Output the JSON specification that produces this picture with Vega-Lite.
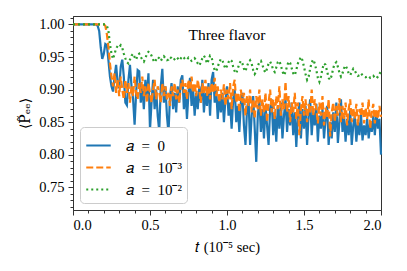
{
"$schema": "https://vega.github.io/schema/vega-lite/v6.json",
"width": 308, "height": 194,
"autosize": {"type": "none"},
"padding": {"left": 73, "top": 16, "right": 26, "bottom": 61},
"background": "white",
"config": {"view": {"stroke": "#333", "strokeWidth": 1}, "font": "Liberation Serif"},
"title": {"text": "Three flavor", "orient": "top", "anchor": "middle", "offset": -27, "fontSize": 15.5, "font": "Liberation Serif", "fontWeight": "normal", "color": "black"},
"data": {"values": [
{"t":0.00,"a0":1,"a3":1,"a2":1},
{"t":0.05,"a0":1,"a3":1,"a2":1},
{"t":0.10,"a0":1,"a3":1,"a2":1},
{"t":0.15,"a0":1.000,"a3":1,"a2":1},
{"t":0.16,"a0":0.998,"a3":1,"a2":1},
{"t":0.17,"a0":0.990,"a3":1,"a2":1},
{"t":0.18,"a0":0.965,"a3":1,"a2":1},
{"t":0.19,"a0":0.947,"a3":1,"a2":1},
{"t":0.20,"a0":0.955,"a3":1,"a2":1},
{"t":0.21,"a0":0.970,"a3":0.998,"a2":1},
{"t":0.22,"a0":0.968,"a3":0.985,"a2":0.998},
{"t":0.23,"a0":0.945,"a3":0.965,"a2":0.990},
{"t":0.24,"a0":0.920,"a3":0.940,"a2":0.970},
{"t":0.25,"a0":0.905,"a3":0.920,"a2":0.955},
{"t":0.26,"a0":0.897,"a3":0.905,"a2":0.947},
{"t":0.27,"a0":0.920,"a3":0.925,"a2":0.955},
{"t":0.28,"a0":0.938,"a3":0.895,"a2":0.963},
{"t":0.29,"a0":0.910,"a3":0.915,"a2":0.967},
{"t":0.30,"a0":0.902,"a3":0.890,"a2":0.965},
{"t":0.31,"a0":0.935,"a3":0.920,"a2":0.968},
{"t":0.32,"a0":0.946,"a3":0.900,"a2":0.964},
{"t":0.33,"a0":0.920,"a3":0.885,"a2":0.955},
{"t":0.34,"a0":0.880,"a3":0.915,"a2":0.948},
{"t":0.35,"a0":0.876,"a3":0.895,"a2":0.942},
{"t":0.36,"a0":0.915,"a3":0.910,"a2":0.940},
{"t":0.37,"a0":0.938,"a3":0.880,"a2":0.946},
{"t":0.38,"a0":0.905,"a3":0.905,"a2":0.952},
{"t":0.39,"a0":0.886,"a3":0.890,"a2":0.955},
{"t":0.40,"a0":0.846,"a3":0.920,"a2":0.950},
{"t":0.41,"a0":0.895,"a3":0.895,"a2":0.946},
{"t":0.42,"a0":0.930,"a3":0.885,"a2":0.953},
{"t":0.43,"a0":0.928,"a3":0.910,"a2":0.955},
{"t":0.44,"a0":0.880,"a3":0.895,"a2":0.950},
{"t":0.45,"a0":0.905,"a3":0.920,"a2":0.946},
{"t":0.46,"a0":0.870,"a3":0.890,"a2":0.943},
{"t":0.47,"a0":0.915,"a3":0.905,"a2":0.948},
{"t":0.48,"a0":0.890,"a3":0.880,"a2":0.955},
{"t":0.49,"a0":0.925,"a3":0.910,"a2":0.958},
{"t":0.50,"a0":0.838,"a3":0.895,"a2":0.957},
{"t":0.51,"a0":0.880,"a3":0.880,"a2":0.952},
{"t":0.52,"a0":0.915,"a3":0.900,"a2":0.946},
{"t":0.53,"a0":0.870,"a3":0.915,"a2":0.942},
{"t":0.54,"a0":0.900,"a3":0.885,"a2":0.946},
{"t":0.55,"a0":0.860,"a3":0.905,"a2":0.950},
{"t":0.56,"a0":0.836,"a3":0.895,"a2":0.948},
{"t":0.57,"a0":0.905,"a3":0.880,"a2":0.944},
{"t":0.58,"a0":0.932,"a3":0.910,"a2":0.948},
{"t":0.59,"a0":0.880,"a3":0.890,"a2":0.951},
{"t":0.60,"a0":0.905,"a3":0.905,"a2":0.948},
{"t":0.61,"a0":0.860,"a3":0.885,"a2":0.945},
{"t":0.62,"a0":0.833,"a3":0.895,"a2":0.946},
{"t":0.63,"a0":0.890,"a3":0.875,"a2":0.950},
{"t":0.64,"a0":0.910,"a3":0.905,"a2":0.948},
{"t":0.65,"a0":0.870,"a3":0.890,"a2":0.945},
{"t":0.66,"a0":0.895,"a3":0.910,"a2":0.947},
{"t":0.67,"a0":0.865,"a3":0.885,"a2":0.950},
{"t":0.68,"a0":0.905,"a3":0.900,"a2":0.948},
{"t":0.69,"a0":0.880,"a3":0.880,"a2":0.945},
{"t":0.70,"a0":0.915,"a3":0.905,"a2":0.948},
{"t":0.71,"a0":0.922,"a3":0.915,"a2":0.951},
{"t":0.72,"a0":0.870,"a3":0.895,"a2":0.949},
{"t":0.73,"a0":0.900,"a3":0.910,"a2":0.946},
{"t":0.74,"a0":0.855,"a3":0.885,"a2":0.946},
{"t":0.75,"a0":0.895,"a3":0.915,"a2":0.949},
{"t":0.76,"a0":0.918,"a3":0.900,"a2":0.947},
{"t":0.77,"a0":0.875,"a3":0.920,"a2":0.944},
{"t":0.78,"a0":0.900,"a3":0.895,"a2":0.945},
{"t":0.79,"a0":0.860,"a3":0.910,"a2":0.948},
{"t":0.80,"a0":0.895,"a3":0.890,"a2":0.945},
{"t":0.81,"a0":0.870,"a3":0.915,"a2":0.940},
{"t":0.82,"a0":0.905,"a3":0.900,"a2":0.937},
{"t":0.83,"a0":0.880,"a3":0.880,"a2":0.942},
{"t":0.84,"a0":0.915,"a3":0.910,"a2":0.948},
{"t":0.85,"a0":0.865,"a3":0.895,"a2":0.952},
{"t":0.86,"a0":0.895,"a3":0.915,"a2":0.948},
{"t":0.87,"a0":0.875,"a3":0.890,"a2":0.940},
{"t":0.88,"a0":0.910,"a3":0.905,"a2":0.945},
{"t":0.89,"a0":0.860,"a3":0.885,"a2":0.952},
{"t":0.90,"a0":0.915,"a3":0.910,"a2":0.950},
{"t":0.91,"a0":0.927,"a3":0.895,"a2":0.938},
{"t":0.92,"a0":0.880,"a3":0.918,"a2":0.930},
{"t":0.93,"a0":0.900,"a3":0.890,"a2":0.928},
{"t":0.94,"a0":0.855,"a3":0.905,"a2":0.935},
{"t":0.95,"a0":0.890,"a3":0.880,"a2":0.942},
{"t":0.96,"a0":0.865,"a3":0.900,"a2":0.947},
{"t":0.97,"a0":0.895,"a3":0.885,"a2":0.945},
{"t":0.98,"a0":0.850,"a3":0.908,"a2":0.938},
{"t":0.99,"a0":0.885,"a3":0.875,"a2":0.932},
{"t":1.00,"a0":0.905,"a3":0.900,"a2":0.936},
{"t":1.01,"a0":0.860,"a3":0.885,"a2":0.942},
{"t":1.02,"a0":0.880,"a3":0.910,"a2":0.946},
{"t":1.03,"a0":0.840,"a3":0.870,"a2":0.944},
{"t":1.04,"a0":0.885,"a3":0.905,"a2":0.935},
{"t":1.05,"a0":0.900,"a3":0.915,"a2":0.928},
{"t":1.06,"a0":0.850,"a3":0.880,"a2":0.925},
{"t":1.07,"a0":0.875,"a3":0.895,"a2":0.932},
{"t":1.08,"a0":0.835,"a3":0.865,"a2":0.940},
{"t":1.09,"a0":0.880,"a3":0.900,"a2":0.944},
{"t":1.10,"a0":0.895,"a3":0.880,"a2":0.940},
{"t":1.11,"a0":0.845,"a3":0.895,"a2":0.932},
{"t":1.12,"a0":0.815,"a3":0.860,"a2":0.928},
{"t":1.13,"a0":0.870,"a3":0.890,"a2":0.936},
{"t":1.14,"a0":0.885,"a3":0.875,"a2":0.942},
{"t":1.15,"a0":0.815,"a3":0.900,"a2":0.945},
{"t":1.16,"a0":0.860,"a3":0.865,"a2":0.940},
{"t":1.17,"a0":0.890,"a3":0.885,"a2":0.930},
{"t":1.18,"a0":0.840,"a3":0.855,"a2":0.924},
{"t":1.19,"a0":0.789,"a3":0.890,"a2":0.928},
{"t":1.20,"a0":0.860,"a3":0.870,"a2":0.936},
{"t":1.21,"a0":0.885,"a3":0.900,"a2":0.942},
{"t":1.22,"a0":0.835,"a3":0.860,"a2":0.944},
{"t":1.23,"a0":0.870,"a3":0.885,"a2":0.938},
{"t":1.24,"a0":0.825,"a3":0.865,"a2":0.930},
{"t":1.25,"a0":0.875,"a3":0.895,"a2":0.926},
{"t":1.26,"a0":0.845,"a3":0.850,"a2":0.932},
{"t":1.27,"a0":0.815,"a3":0.880,"a2":0.940},
{"t":1.28,"a0":0.870,"a3":0.900,"a2":0.943},
{"t":1.29,"a0":0.885,"a3":0.865,"a2":0.938},
{"t":1.30,"a0":0.830,"a3":0.885,"a2":0.930},
{"t":1.31,"a0":0.865,"a3":0.855,"a2":0.927},
{"t":1.32,"a0":0.820,"a3":0.890,"a2":0.934},
{"t":1.33,"a0":0.875,"a3":0.870,"a2":0.942},
{"t":1.34,"a0":0.840,"a3":0.905,"a2":0.944},
{"t":1.35,"a0":0.880,"a3":0.860,"a2":0.937},
{"t":1.36,"a0":0.825,"a3":0.885,"a2":0.928},
{"t":1.37,"a0":0.860,"a3":0.870,"a2":0.922},
{"t":1.38,"a0":0.885,"a3":0.912,"a2":0.927},
{"t":1.39,"a0":0.835,"a3":0.865,"a2":0.936},
{"t":1.40,"a0":0.870,"a3":0.890,"a2":0.943},
{"t":1.41,"a0":0.845,"a3":0.850,"a2":0.941},
{"t":1.42,"a0":0.880,"a3":0.880,"a2":0.933},
{"t":1.43,"a0":0.830,"a3":0.865,"a2":0.925},
{"t":1.44,"a0":0.865,"a3":0.895,"a2":0.922},
{"t":1.45,"a0":0.812,"a3":0.855,"a2":0.930},
{"t":1.46,"a0":0.860,"a3":0.880,"a2":0.940},
{"t":1.47,"a0":0.880,"a3":0.830,"a2":0.945},
{"t":1.48,"a0":0.825,"a3":0.870,"a2":0.950},
{"t":1.49,"a0":0.870,"a3":0.890,"a2":0.945},
{"t":1.50,"a0":0.840,"a3":0.860,"a2":0.935},
{"t":1.51,"a0":0.875,"a3":0.885,"a2":0.924},
{"t":1.52,"a0":0.815,"a3":0.850,"a2":0.915},
{"t":1.53,"a0":0.860,"a3":0.878,"a2":0.920},
{"t":1.54,"a0":0.885,"a3":0.865,"a2":0.932},
{"t":1.55,"a0":0.830,"a3":0.900,"a2":0.942},
{"t":1.56,"a0":0.865,"a3":0.860,"a2":0.946},
{"t":1.57,"a0":0.845,"a3":0.885,"a2":0.940},
{"t":1.58,"a0":0.878,"a3":0.870,"a2":0.930},
{"t":1.59,"a0":0.820,"a3":0.848,"a2":0.918},
{"t":1.60,"a0":0.860,"a3":0.880,"a2":0.912},
{"t":1.61,"a0":0.840,"a3":0.860,"a2":0.920},
{"t":1.62,"a0":0.870,"a3":0.890,"a2":0.932},
{"t":1.63,"a0":0.825,"a3":0.845,"a2":0.940},
{"t":1.64,"a0":0.855,"a3":0.872,"a2":0.938},
{"t":1.65,"a0":0.875,"a3":0.858,"a2":0.928},
{"t":1.66,"a0":0.815,"a3":0.885,"a2":0.918},
{"t":1.67,"a0":0.850,"a3":0.828,"a2":0.915},
{"t":1.68,"a0":0.825,"a3":0.865,"a2":0.922},
{"t":1.69,"a0":0.865,"a3":0.880,"a2":0.933},
{"t":1.70,"a0":0.835,"a3":0.850,"a2":0.940},
{"t":1.71,"a0":0.880,"a3":0.875,"a2":0.942},
{"t":1.72,"a0":0.818,"a3":0.860,"a2":0.935},
{"t":1.73,"a0":0.850,"a3":0.887,"a2":0.926},
{"t":1.74,"a0":0.885,"a3":0.850,"a2":0.920},
{"t":1.75,"a0":0.835,"a3":0.875,"a2":0.925},
{"t":1.76,"a0":0.860,"a3":0.855,"a2":0.933},
{"t":1.77,"a0":0.820,"a3":0.880,"a2":0.937},
{"t":1.78,"a0":0.855,"a3":0.845,"a2":0.932},
{"t":1.79,"a0":0.830,"a3":0.870,"a2":0.925},
{"t":1.80,"a0":0.868,"a3":0.885,"a2":0.922},
{"t":1.81,"a0":0.815,"a3":0.850,"a2":0.927},
{"t":1.82,"a0":0.845,"a3":0.872,"a2":0.932},
{"t":1.83,"a0":0.860,"a3":0.855,"a2":0.929},
{"t":1.84,"a0":0.820,"a3":0.878,"a2":0.924},
{"t":1.85,"a0":0.850,"a3":0.845,"a2":0.921},
{"t":1.86,"a0":0.830,"a3":0.870,"a2":0.922},
{"t":1.87,"a0":0.862,"a3":0.860,"a2":0.925},
{"t":1.88,"a0":0.822,"a3":0.880,"a2":0.922},
{"t":1.89,"a0":0.845,"a3":0.848,"a2":0.920},
{"t":1.90,"a0":0.830,"a3":0.872,"a2":0.919},
{"t":1.91,"a0":0.855,"a3":0.855,"a2":0.920},
{"t":1.92,"a0":0.825,"a3":0.885,"a2":0.921},
{"t":1.93,"a0":0.850,"a3":0.840,"a2":0.918},
{"t":1.94,"a0":0.835,"a3":0.865,"a2":0.919},
{"t":1.95,"a0":0.860,"a3":0.878,"a2":0.921},
{"t":1.96,"a0":0.830,"a3":0.848,"a2":0.918},
{"t":1.97,"a0":0.865,"a3":0.870,"a2":0.917},
{"t":1.98,"a0":0.840,"a3":0.855,"a2":0.920},
{"t":1.99,"a0":0.855,"a3":0.875,"a2":0.924},
{"t":2.00,"a0":0.800,"a3":0.858,"a2":0.928}
]},
"transform": [{"fold": ["a0", "a3", "a2"], "as": ["series", "value"]}],
"layer": [
{
"mark": {"type": "line", "strokeWidth": 2.2},
"encoding": {
"x": {"field": "t", "type": "quantitative", "scale": {"domain": [0, 2], "nice": false},
 "axis": {"orient": "bottom", "values": [0, 0.5, 1, 1.5, 2], "format": ".1f", "grid": false, "tickSize": 5, "tickColor": "#333", "domainColor": "#333", "labelPadding": 3, "labelFont": "Liberation Serif", "labelFontSize": 14.5, "labelColor": "black", "title": "𝑡 (10⁻⁵ sec)", "titleFont": "Liberation Serif", "titleFontSize": 14.5, "titleFontWeight": "normal", "titleColor": "black", "titlePadding": 9}},
"y": {"field": "value", "type": "quantitative", "scale": {"domain": [0.715, 1.013], "nice": false, "zero": false},
 "axis": {"orient": "left", "values": [0.75, 0.8, 0.85, 0.9, 0.95, 1.0], "format": ".2f", "grid": false, "tickSize": 5, "tickColor": "#333", "domainColor": "#333", "labelPadding": 4, "labelFont": "Liberation Serif", "labelFontSize": 14.5, "labelColor": "black", "title": "⟨P̃ₑₑ⟩", "titleFont": "DejaVu Serif", "titleFontSize": 14, "titleFontWeight": "normal", "titleColor": "black", "titlePadding": 6}},
"color": {"field": "series", "type": "nominal", "scale": {"domain": ["a0", "a3", "a2"], "range": ["#1f77b4", "#ff7f0e", "#2ca02c"]},
 "legend": {"title": null, "orient": "bottom-left", "offset": 7, "fillColor": "white", "strokeColor": "#ccc", "cornerRadius": 4, "padding": 5, "symbolType": "stroke", "symbolSize": 600, "symbolStrokeWidth": 2.2, "labelOffset": 14, "rowPadding": 0, "labelFont": "Liberation Serif", "labelFontSize": 15, "labelColor": "black", "labelExpr": "datum.value == 'a0' ? '𝑎\u2002=\u20020' : datum.value == 'a3' ? '𝑎\u2002=\u200210⁻³' : '𝑎\u2002=\u200210⁻²'"}},
"strokeDash": {"field": "series", "type": "nominal", "scale": {"domain": ["a0", "a3", "a2"], "range": [[1, 0], [7, 3], [2, 3]]},
 "legend": {"title": null, "orient": "bottom-left", "offset": 7, "fillColor": "white", "strokeColor": "#ccc", "cornerRadius": 4, "padding": 5, "symbolType": "stroke", "symbolSize": 600, "symbolStrokeWidth": 2.2, "labelOffset": 14, "rowPadding": 0, "labelFont": "Liberation Serif", "labelFontSize": 15, "labelColor": "black", "labelExpr": "datum.value == 'a0' ? '𝑎\u2002=\u20020' : datum.value == 'a3' ? '𝑎\u2002=\u200210⁻³' : '𝑎\u2002=\u200210⁻²'"}}
}
},
{
"mark": {"type": "point", "opacity": 0},
"encoding": {
"x": {"field": "t", "type": "quantitative", "axis": {"orient": "bottom", "values": [0.1,0.2,0.3,0.4,0.6,0.7,0.8,0.9,1.1,1.2,1.3,1.4,1.6,1.7,1.8,1.9], "labels": false, "domain": false, "grid": false, "tickSize": 3, "tickColor": "#333", "title": null}},
"y": {"field": "value", "type": "quantitative", "axis": {"orient": "left", "values": [0.72,0.73,0.74,0.76,0.77,0.78,0.79,0.81,0.82,0.83,0.84,0.86,0.87,0.88,0.89,0.91,0.92,0.93,0.94,0.96,0.97,0.98,0.99,1.01], "labels": false, "domain": false, "grid": false, "tickSize": 3, "tickColor": "#333", "title": null}}
}
}
],
"resolve": {"axis": {"x": "independent", "y": "independent"}}
}
